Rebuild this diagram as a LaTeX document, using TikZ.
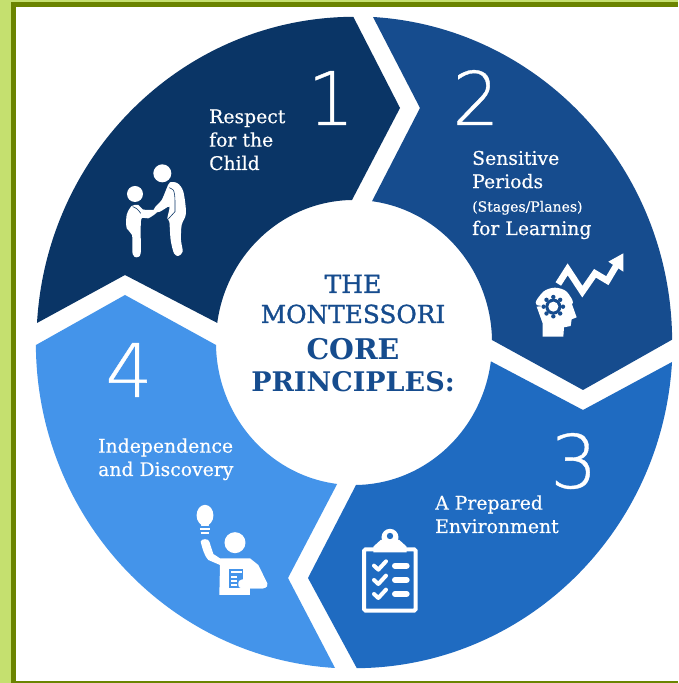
\documentclass[tikz,border=0pt]{standalone}
\usepackage{fontspec}
\setmainfont{DejaVu Serif}
\newfontfamily\numfont[FakeBold=0.5]{DejaVu Sans ExtraLight}
\newfontfamily\capfont[FakeBold=0.4]{DejaVu Serif}
\newfontfamily\titlefont[FakeBold=1.2]{DejaVu Serif}
\definecolor{seglight}{HTML}{4494EA}
\definecolor{segmid}{HTML}{1F6BC1}
\definecolor{segdeep}{HTML}{164C8E}
\definecolor{segdark}{HTML}{0A3566}
\definecolor{leaf}{HTML}{C5E06F}
\definecolor{moss}{HTML}{6B8400}

\begin{document}
\begin{tikzpicture}[x=1pt, y=1pt]

  \tikzstyle{outerarc} = [x radius=318pt, y radius=325.5pt]
  \tikzstyle{innerarc} = [x radius=138pt, y radius=142.5pt]
  \tikzstyle{number} = [inner sep=0pt, text=white, font=\numfont\fontsize{74}{74}\selectfont]
  \tikzstyle{caption} = [inner sep=0pt, text=white, align=left, anchor=base west, font=\capfont\fontsize{18.8}{23.4}\selectfont]
  \tikzstyle{titleline} = [inner sep=0pt, text=segdeep, anchor=base]
  \tikzstyle{icon} = [x=0.3333pt, y=-0.3333pt]
  \tikzstyle{iconline} = [draw=white, line cap=round, line join=round]

  \useasboundingbox (0,0) rectangle (678,683);
  \fill[white] (0,0) rectangle (678,683);

  % frame
  \fill[leaf] (0,0) rectangle (11,683);
  \fill[leaf] (0,681) rectangle (678,683);
  \fill[moss] (11,0) rectangle (16,681);
  \fill[moss] (11,676) rectangle (678,681);
  \fill[moss] (11,0) rectangle (678,1.5);

  % four segments
  \fill[segdark] (37,360) arc[outerarc, start angle=176.6, end angle=90.2] -- (400,575) -- (352,483)
    arc[innerarc, start angle=90.8, end angle=172.1] -- (125,408) -- cycle;
  \fill[segdeep] (373,666) arc[outerarc, start angle=86.6, end angle=0.4] -- (583,293) -- (492,343)
    arc[innerarc, start angle=1, end angle=82.5] -- (420,575) -- cycle;
  \fill[segmid] (672,321) arc[outerarc, start angle=-3.4, end angle=-89.6] -- (308,105) -- (356,198)
    arc[innerarc, start angle=-89.2, end angle=-7.6] -- (583,273) -- cycle;
  \fill[seglight] (36,338) -- (125,388) -- (216,338)
    arc[innerarc, start angle=181, end angle=263] -- (288,105) -- (335,15)
    arc[outerarc, start angle=266.6, end angle=180.4] -- cycle;

  % numbers
  \node (num1) [number, anchor=base] at (331,558) {1};
  \node (num2) [number, anchor=base] at (476,558) {2};
  \node (num3) [number, anchor=base] at (574,195) {3};
  \node (num4) [number, anchor=base] at (129,286) {4};

  % captions
  \node (respect) [caption] at (209,513) {Respect\\for the\\Child};
  \node (sensitive) [caption] at (472,448) {Sensitive\\Periods\\{\fontsize{14}{23.4}\selectfont (Stages/Planes)}\\for Learning};
  \node (prepared) [caption] at (435,150) {A Prepared\\Environment};
  \node (independence) [caption] at (98,207) {Independence\\and Discovery};

  % centre title
  \node (titlethe) [titleline, font=\titlefont\fontsize{25}{25}\selectfont] at (353,390) {THE};
  \node (titlemont) [titleline, font=\titlefont\fontsize{24.8}{25}\selectfont] at (353,360) {MONTESSORI};
  \node (titlecore) [titleline, font=\bfseries\fontsize{28.5}{28}\selectfont] at (353,323) {CORE};
  \node (titleprin) [titleline, font=\bfseries\fontsize{27}{27}\selectfont] at (353,291) {PRINCIPLES:};

  % adult and child
  \begin{scope}[shift={(110,533)}, icon]
    \fill[white] (157,70) circle[radius=9pt];
    \fill[white] (75,132) circle[radius=8pt];
    \fill[white] plot[smooth cycle] coordinates {(180,97) (203,100) (220,125) (228,190) (215,225) (213,270) (218,305) (205,318) (192,310) (182,270) (178,215) (172,205) (178,170) (150,185) (130,187) (135,172) (155,150) (170,115)};
    \fill[white] plot[smooth cycle] coordinates {(65,168) (85,165) (98,178) (120,180) (135,180) (140,188) (115,205) (95,205) (92,240) (92,310) (80,322) (68,312) (66,255) (50,235) (50,195)};
    \draw[segdark, line width=0.6pt] (178,113) .. controls (197,115) and (195,140) .. (195,185) -- (172,210);
    \draw[segdark, line width=0.6pt] (68,170) .. controls (75,172) and (85,178) .. (92,190);
  \end{scope}

  % head and rising arrow
  \begin{scope}[shift={(520,443)}, icon]
    \fill[white] plot[smooth cycle, tension=0.5] coordinates {(50,195) (70,155) (105,143) (140,155) (155,195)} ;
    \fill[white] (68,290) -- (68,250) -- (50,200) -- (155,190) -- (170,232) -- (155,238) -- (152,258) -- (132,262) -- (130,290) -- cycle;
    \fill[segdeep] (100,200) circle[radius=8pt];
    \foreach \ang in {0,45,...,315} {
      \fill[segdeep] (100,200) ++(\ang:29) circle[radius=2.2pt];
    }
    \fill[white] (100,200) circle[radius=5pt];
    \draw[white, line width=6.5pt, line join=miter] (115,132) -- (143,88) -- (187,155) -- (225,100) -- (262,122) -- (290,75);
    \fill[white] (310,40) -- (265,65) -- (310,95) -- cycle;
  \end{scope}

  % clipboard
  \begin{scope}[shift={(350,163)}, icon]
    \draw[white, line width=4pt, rounded corners=1.5pt] (42,88) rectangle (197,272);
    \fill[white] (70,97) -- (70,80) -- (92,60) -- (148,60) -- (170,80) -- (170,97) -- cycle;
    \fill[white] (120,52) circle[radius=8.5pt];
    \fill[segmid] (120,48) circle[radius=3.2pt];
    \foreach \row in {137,180,222} {
      \draw[iconline, line width=4pt] (72,\row) -- ++(13,12) -- ++(23,-25);
      \draw[iconline, line width=6pt] (135,\row) -- ++(35,0);
    }
  \end{scope}

  % pupil with bulb
  \begin{scope}[shift={(180,193)}, icon]
    \fill[white] (75,76) ellipse[x radius=8.4pt, y radius=10.5pt];
    \fill[white] (60,92) -- (90,92) -- (86,108) -- (64,108) -- cycle;
    \draw[white, line width=1.5pt] (60,117) -- (90,117);
    \draw[white, line width=1.5pt] (62,129) -- (88,129);
    \fill[white] (165,158) circle[radius=10.5pt];
    \fill[white] (62,155) .. controls (65,145) and (85,145) .. (88,155) -- (100,192) -- (120,205) -- (210,205) -- (235,225) -- (262,280) .. controls (265,295) and (250,295) .. (245,295) -- (210,295) -- (210,315) -- (118,315) -- (120,225) -- (85,210) .. controls (75,200) and (68,180) .. cycle;
    \fill[seglight] (148,238) rectangle (190,293);
    \fill[white] (153,244) rectangle (185,250);
    \fill[white] (153,257) rectangle (170,263);
    \fill[white] (153,270) rectangle (170,276);
    \fill[white] (153,283) rectangle (170,289);
    \fill[white] (175,280) .. controls (175,268) and (185,268) .. (215,265) -- (215,253) -- (238,275) -- (250,295) -- (185,295) .. controls (178,295) and (175,290) .. cycle;
  \end{scope}

\end{tikzpicture}
\end{document}
